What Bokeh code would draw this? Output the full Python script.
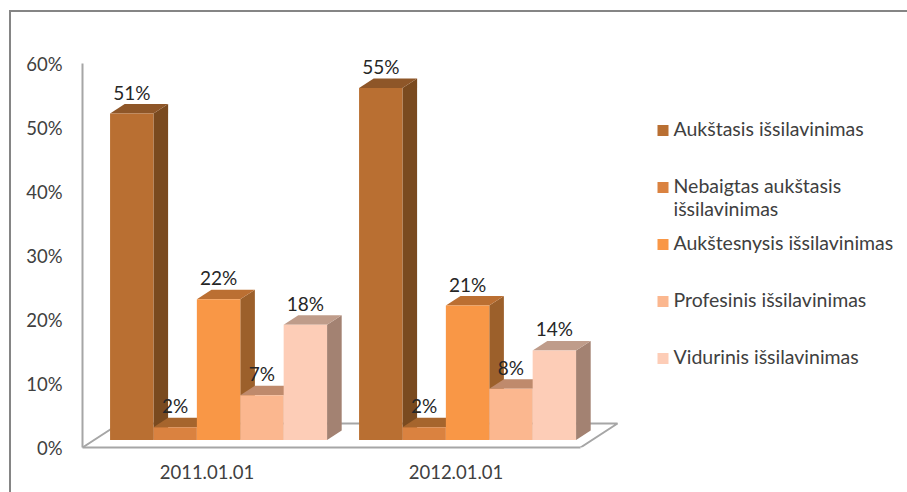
from bokeh.plotting import figure
from bokeh.models import Range1d, FixedTicker, PrintfTickFormatter
from bokeh.embed import file_html
from bokeh.resources import INLINE
from bokeh.core.properties import value

categories = ["2011.01.01", "2012.01.01"]
series_names = ["Aukštasis išsilavinimas", "Nebaigtas aukštasis\nišsilavinimas", "Aukštesnysis išsilavinimas",
                "Profesinis išsilavinimas", "Vidurinis išsilavinimas"]
values_2011 = [51, 2, 22, 7, 18]
values_2012 = [55, 2, 21, 8, 14]
y_ticks = [0, 10, 20, 30, 40, 50, 60]

front_colors = ["#B96F32", "#DA8240", "#F99746", "#FBB78F", "#FDCDB7"]
top_colors = ["#8E5628", "#A6652D", "#BB6F32", "#BF8A6C", "#BF9C8A"]
side_colors = ["#7A4A1F", "#8E5628", "#9C602B", "#A87F68", "#A38272"]

FONT = "Lato"
FSIZE = "18.5px"
LABEL_SIZE = "19px"
LEGEND_SIZE = "19.5px"
W, H = 907, 492
AX_X, AX_Y = 82, 447   # pixel position of the axes' origin
PX_U = 249.0   # pixels per category
PX_V = 6.4     # pixels per percent
FLOOR_DX = 37 / PX_U   # floor depth in x units
FLOOR_DY = 24 / PX_V   # floor depth in y units
BAR_W = 43.4 / PX_U
D_FRONT = 0.3125
D_BACK = 0.708


def proj(x, v, d):
    return x + d * FLOOR_DX, v + d * FLOOR_DY


def px_x(px):
    return -0.5 + (px - AX_X) / PX_U


def px_y(py):
    return (AX_Y - py) / PX_V


frame = "linear-gradient(#858585,#858585)"
p = figure(width=W, height=H, output_backend="svg", toolbar_location=None,
           x_range=Range1d(-0.5, px_x(W)), y_range=Range1d(0, px_y(0)),
           min_border_left=AX_X, min_border_right=0, min_border_top=0, min_border_bottom=H - AX_Y,
           border_fill_color=None, background_fill_color=None,
           styles={"background": f"{frame} 9px 10px/2px 482px no-repeat, {frame} 9px 10px/898px 2px no-repeat, #ffffff"})
p.outline_line_color = None
p.grid.visible = False

# y axis
ya = p.yaxis[0]
ya.ticker = FixedTicker(ticks=y_ticks)
ya.formatter = PrintfTickFormatter(format="%d%%")
ya.bounds = (0, 60)
ya.axis_line_color = "#A6A6A6"
ya.axis_line_width = 2
ya.major_tick_line_color = None
ya.minor_tick_line_color = None
ya.major_label_standoff = 14
ya.major_label_text_font = FONT
ya.major_label_text_font_size = FSIZE
ya.major_label_text_color = "#404040"

# x axis
xa = p.xaxis[0]
xa.ticker = FixedTicker(ticks=list(range(len(categories))))
xa.major_label_overrides = {i: c for i, c in enumerate(categories)}
xa.bounds = (-0.5, len(categories) - 0.5)
xa.axis_line_color = "#A6A6A6"
xa.axis_line_width = 2
xa.major_tick_line_color = None
xa.minor_tick_line_color = None
xa.major_label_standoff = 11
xa.major_label_text_font = FONT
xa.major_label_text_font_size = FSIZE
xa.major_label_text_color = "#404040"

# floor back edges
x0, x1 = -0.5, len(categories) - 0.5
fx = [proj(x0, 0, 0)[0], proj(x0, 0, 1)[0], proj(x1, 0, 1)[0], proj(x1, 0, 0)[0]]
fy = [proj(x0, 0, 0)[1], proj(x0, 0, 1)[1], proj(x1, 0, 1)[1], proj(x1, 0, 0)[1]]
p.line(fx, fy, line_color="#A6A6A6", line_width=2)

# bars
label_x, label_y, label_t = [], [], []
n = len(series_names)
rows = [values_2011, values_2012]
for s in range(n):
    fr_x, fr_y, tp_x, tp_y, sd_x, sd_y = [], [], [], [], [], []
    for c, row in enumerate(rows):
        v = row[s]
        l = c + (s - n / 2) * BAR_W
        r = l + BAR_W
        a = proj(l, 0, D_FRONT); b = proj(r, 0, D_FRONT)
        e = proj(l, v, D_FRONT); f = proj(r, v, D_FRONT)
        g = proj(l, v, D_BACK); h = proj(r, v, D_BACK); i = proj(r, 0, D_BACK)
        fr_x.append([a[0], b[0], f[0], e[0]]); fr_y.append([a[1], b[1], f[1], e[1]])
        tp_x.append([e[0], f[0], h[0], g[0]]); tp_y.append([e[1], f[1], h[1], g[1]])
        sd_x.append([b[0], i[0], h[0], f[0]]); sd_y.append([b[1], i[1], h[1], f[1]])
        label_x.append((e[0] + f[0]) / 2); label_y.append(g[1] + 12 / PX_V); label_t.append(f"{v}%")
    p.patches(sd_x, sd_y, fill_color=side_colors[s], line_color=None)
    p.patches(tp_x, tp_y, fill_color=top_colors[s], line_color=None)
    p.patches(fr_x, fr_y, fill_color=front_colors[s], line_color=None)

p.text(label_x, label_y, text=label_t, text_font=value(FONT), text_font_size=value(LABEL_SIZE),
       text_color="#262626", text_align="center", text_baseline="alphabetic")

# legend
LEG_X, LEG_Y, LEG_PITCH, LEG_LINE = 662.5, 130, 57, 23
mk_x, mk_y, mk_c, tx_x, tx_y, tx_t = [], [], [], [], [], []
for k, name in enumerate(series_names):
    py = LEG_Y + k * LEG_PITCH
    mk_x.append(px_x(LEG_X)); mk_y.append(px_y(py)); mk_c.append(front_colors[k])
    for j, part in enumerate(name.split("\n")):
        tx_x.append(px_x(673)); tx_y.append(px_y(py - 2 + j * LEG_LINE)); tx_t.append(part)
p.scatter(mk_x, mk_y, marker="square", size=11, fill_color=mk_c, line_color=None)
p.text(tx_x, tx_y, text=tx_t, text_font=value(FONT), text_font_size=value(LEGEND_SIZE),
       text_color="#404040", text_align="left", text_baseline="middle")

open("out.html", "w").write(file_html(p, INLINE))
